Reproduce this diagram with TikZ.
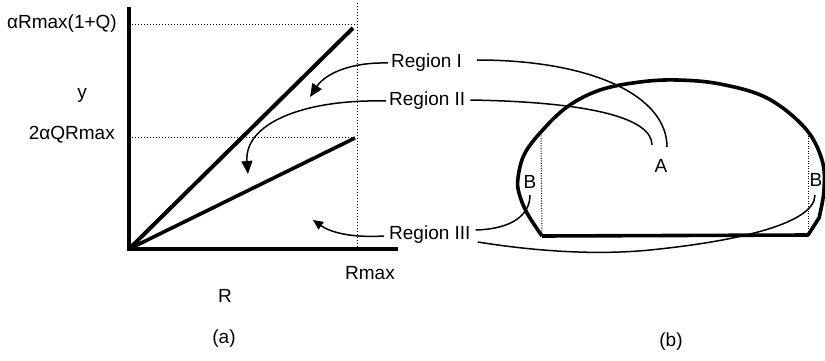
\documentclass[tikz,border=0pt]{standalone}
\usepackage{fontspec}
\setmainfont{Liberation Sans}
\usetikzlibrary{arrows.meta}
\tikzset{
  lbl/.style={font=\fontsize{19}{22}\selectfont, inner sep=0pt},
  axisline/.style={line width=3.6pt},
  thin dots/.style={line width=1pt, dash pattern=on 1pt off 2pt},
  leader/.style={line width=1.5pt},
  arr/.style={leader, -{Triangle[length=13pt,width=11pt]}},
  arrs/.style={leader, -{Triangle[length=10pt,width=9pt]}},
}
\begin{document}
\begin{tikzpicture}[x=1pt,y=-1pt]
\useasboundingbox (0,0) rectangle (825,361);
\clip (0,0) rectangle (825,361);
% ---- (a) ----
\coordinate (O) at (129,249);
\coordinate (ytop) at (129,7);
\coordinate (xend) at (398,249);
\coordinate (vtop) at (357,3);
\coordinate (vbot) at (357,249);
\coordinate (h1l) at (129,25);
\coordinate (h1r) at (357,25);
\coordinate (h2l) at (129,137);
\coordinate (h2r) at (357,137);
\coordinate (up) at (353,28);
\coordinate (lo) at (355,138);
\draw[thin dots] (vtop) -- (vbot);
\draw[thin dots] (h1l) -- (h1r);
\draw[thin dots] (h2l) -- (h2r);
\draw[axisline] (ytop) -- (O |- xend) -- (xend);
\draw[line width=4pt] (O) -- (up);
\draw[line width=3.6pt] (O) -- (lo);

\node[lbl, anchor=east] (t1) at (117,24) {αRmax(1+Q)};
\node[lbl] (ty) at (82,95) {y};
\node[lbl, anchor=east] (t2) at (115,135) {2αQRmax};
\node[lbl] (trmax) at (370,273) {Rmax};
\node[lbl] (tR) at (225,296) {R};
\node[lbl] (ta) at (224,339) {(a)};

% region labels
\node[lbl, anchor=west] (r1) at (391,63) {Region I};
\node[lbl, anchor=west] (r2) at (389,101) {Region II};
\node[lbl, anchor=west] (r3) at (389,235) {Region III};

\coordinate (a1) at (310,97);
\coordinate (a2) at (248,174);
\coordinate (a3) at (313,220);
\draw[arr] (r1.west) ++(-3,0) .. controls (350,62) and (325,74) .. (a1);
\draw[arr] (r2.west) ++(-3,0) .. controls (300,99) and (244,125) .. (a2);
\draw[arrs] (r3.west) ++(-5,1) .. controls (350,238) and (330,232) .. (a3);

% ---- (b) ----
\coordinate (bl) at (542,236);
\coordinate (br) at (808,235);
\coordinate (dl) at (541,133);
\coordinate (dr) at (808,133);
\draw[line width=1pt, dash pattern=on 1pt off 1.5pt] (dl) -- (bl);
\draw[line width=1pt, dash pattern=on 1pt off 1.5pt] (dr) -- (br);
\draw[line width=3.6pt, line join=round] plot[smooth, tension=0.6] coordinates {(542,236) (527,213) (519,193) (518,178) (524,155) (540,133) (567,107) (600,90) (640,82) (677,80) (720,84) (767,98) (805,128) (822,160) (824,190) (819,218)} -- (br) -- (bl);

\node[lbl] (A) at (661,166) {A};
\node[lbl] (B1) at (530,182) {B};
\node[lbl] (B2) at (816,180) {B};
\node[lbl] (tb) at (671,342) {(b)};

\coordinate (e1) at (667,147);
\coordinate (e2) at (652,145);
\coordinate (e3) at (530,195);
\coordinate (e4) at (815,195);
\draw[leader] (r1.east) ++(15,-3) .. controls (590,60) and (667,95) .. (e1);
\draw[leader] (r2.east) ++(5,-1) .. controls (590,102) and (652,118) .. (e2);
\draw[leader] (r3.east) ++(5,-5) .. controls (512,229) and (530,215) .. (e3);
\draw[leader] (r3.east) ++(7,7) .. controls (540,252) and (600,255) .. (650,250) .. controls (730,242) and (815,225) .. (e4);
\end{tikzpicture}
\end{document}
